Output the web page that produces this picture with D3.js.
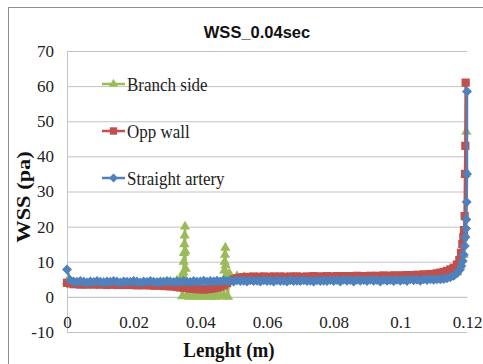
<!DOCTYPE html>
<html>
<head>
<meta charset="utf-8">
<script src="https://cdn.jsdelivr.net/npm/d3@7"></script>
<style>
  body { margin: 0; background: #fff; }
  svg { display: block; }
</style>
</head>
<body>
<div id="chart"></div>
<script>
const xTicks = [0, 0.02, 0.04, 0.06, 0.08, 0.1, 0.12]
const yTicks = [-10, 0, 10, 20, 30, 40, 50, 60, 70]
const seriesNames = ['Branch side', 'Opp wall', 'Straight artery']

// wall positions sampled along the artery (m), shared by opp wall and straight artery
const lengthGrid = [
  0, 0.001, 0.002, 0.003, 0.004, 0.005, 0.006, 0.007, 0.008, 0.009,
  0.01, 0.011, 0.012, 0.013, 0.014, 0.015, 0.016, 0.017, 0.018, 0.019,
  0.02, 0.021, 0.022, 0.023, 0.024, 0.025, 0.026, 0.027, 0.028, 0.029,
  0.03, 0.031, 0.032, 0.033, 0.034, 0.035, 0.036, 0.037, 0.038, 0.039,
  0.04, 0.041, 0.042, 0.043, 0.044, 0.045, 0.046, 0.047, 0.048, 0.049,
  0.05, 0.051, 0.052, 0.053, 0.054, 0.055, 0.056, 0.057, 0.058, 0.059,
  0.06, 0.061, 0.062, 0.063, 0.064, 0.065, 0.066, 0.067, 0.068, 0.069,
  0.07, 0.071, 0.072, 0.073, 0.074, 0.075, 0.076, 0.077, 0.078, 0.079,
  0.08, 0.081, 0.082, 0.083, 0.084, 0.085, 0.086, 0.087, 0.088, 0.089,
  0.09, 0.091, 0.092, 0.093, 0.094, 0.095, 0.096, 0.097, 0.098, 0.099,
  0.1, 0.101, 0.102, 0.103, 0.104, 0.105, 0.106, 0.107, 0.108, 0.109,
  0.11, 0.111, 0.112, 0.113, 0.114
]

// straight artery
const wssStraightGrid = [
  7.8, 4.7, 4.4, 4.2, 4.5, 4.3, 4.1, 4.4, 4.2, 4.5,
  4.3, 4.1, 4.4, 4.2, 4.5, 4.3, 4.1, 4.4, 4.3, 4.2,
  4.5, 4.3, 4.1, 4.4, 4.2, 4.5, 4.3, 4.1, 4.4, 4.2,
  4.5, 4.3, 4.2, 4.4, 4.2, 4.5, 4.3, 4.2, 4.5, 4.3,
  4.4, 4.6, 4.3, 4.5, 4.4, 4.6, 4.4, 4.7, 4.5, 4.6,
  4.4, 4.7, 4.5, 4.6, 4.4, 4.7, 4.5, 4.6, 4.4, 4.7,
  4.5, 4.6, 4.4, 4.7, 4.5, 4.6, 4.4, 4.7, 4.5, 4.6,
  4.5, 4.7, 4.5, 4.6, 4.4, 4.7, 4.5, 4.6, 4.5, 4.8,
  4.5, 4.8, 4.4, 4.9, 4.6, 4.8, 4.4, 4.9, 4.6, 4.8,
  4.5, 4.9, 4.6, 4.8, 4.4, 4.9, 4.6, 4.8, 4.5, 4.9,
  4.6, 4.9, 4.5, 5.0, 4.7, 4.9, 4.6, 5.0, 4.8, 5.0,
  4.9, 5.0, 5.0, 5.1, 5.3
]
const lengthStraightTail = [0.115, 0.116, 0.117, 0.1177, 0.1183, 0.1187, 0.119, 0.1193, 0.1195, 0.1197, 0.1198, 0.1199, 0.12, 0.12]
const wssStraightTail = [5.6, 6.0, 6.7, 7.6, 8.8, 10.2, 12.0, 14.5, 17.0, 19.5, 22.0, 27.0, 35.0, 58.5]

// opp wall
const wssOppGrid = [
  4.0, 3.8, 3.6, 3.7, 3.5, 3.6, 3.5, 3.7, 3.5, 3.6,
  3.5, 3.6, 3.4, 3.6, 3.5, 3.4, 3.5, 3.4, 3.5, 3.4,
  3.4, 3.3, 3.4, 3.3, 3.4, 3.3, 3.2, 3.3, 3.2, 3.1,
  3.1, 3.0, 3.0, 2.8, 2.7, 2.6, 2.5, 2.4, 2.3, 2.2,
  2.2, 2.1, 2.2, 2.3, 2.4, 2.6, 2.9, 3.3, 3.9, 4.5,
  5.0, 5.3, 5.5, 5.6, 5.7, 5.6, 5.8, 5.6, 5.7, 5.8,
  5.6, 5.7, 5.8, 5.6, 5.8, 5.7, 5.6, 5.8, 5.7, 5.8,
  5.7, 5.6, 5.8, 5.7, 5.9, 5.7, 5.8, 5.7, 5.9, 5.8,
  5.7, 5.9, 5.8, 5.9, 5.7, 5.9, 5.8, 6.0, 5.8, 5.9,
  5.9, 6.0, 5.8, 6.0, 5.9, 6.1, 5.9, 6.0, 6.1, 6.0,
  6.1, 6.0, 6.2, 6.1, 6.2, 6.3, 6.2, 6.4, 6.3, 6.5,
  6.5, 6.7, 6.9, 7.1, 7.4
]
const lengthOppTail = [0.115, 0.116, 0.117, 0.1177, 0.1182, 0.1186, 0.1189, 0.1191, 0.1193, 0.1194, 0.1195, 0.1196]
const wssOppTail = [7.8, 8.3, 9.2, 10.5, 12.5, 15.0, 17.0, 19.0, 23.0, 35.0, 43.0, 61.0]

// branch side
const lengthBranch = [
  0, 0.001, 0.003, 0.005, 0.007, 0.009, 0.011, 0.013, 0.015, 0.017,
  0.019, 0.021, 0.023, 0.025, 0.027, 0.029, 0.031, 0.033, 0.034, 0.0346,
  0.0349, 0.035, 0.0351, 0.0352, 0.0353, 0.0354, 0.0355, 0.0356, 0.0358, 0.0366,
  0.0374, 0.0382, 0.039, 0.0398, 0.0406, 0.0414, 0.0422, 0.043, 0.0438, 0.0446,
  0.0454, 0.0462, 0.047, 0.0471, 0.0472, 0.0473, 0.0474, 0.0475, 0.0476, 0.0478,
  0.048, 0.0483, 0.0486, 0.049, 0.051, 0.053, 0.055, 0.057, 0.059, 0.061,
  0.063, 0.065, 0.067, 0.069, 0.071, 0.073, 0.075, 0.077, 0.079, 0.081,
  0.083, 0.085, 0.087, 0.089, 0.091, 0.093, 0.095, 0.097, 0.099, 0.101,
  0.103, 0.105, 0.107, 0.109, 0.111, 0.113, 0.115, 0.117, 0.118, 0.119,
  0.1193, 0.1196, 0.1198
]
const wssBranch = [
  4.3, 4.2, 4.1, 4.1, 4.2, 4.1, 4.1, 4.2, 4.1, 4.1,
  4.1, 4.2, 4.1, 4.1, 4.1, 4.2, 4.3, 4.6, 5.2, 0.2,
  7.0, 10.0, 12.5, 15.0, 17.5, 20.0, 13.0, 8.0, 0.3, 0.0,
  0.2, 0.0, 0.1, 0.0, 0.2, 0.0, 0.1, 0.0, 0.2, 0.0,
  0.1, 0.3, 0.4, 5.0, 7.5, 10.0, 12.0, 14.0, 9.0, 5.0,
  0.2, 0.0, 6.6, 6.2, 5.9, 5.6, 5.2, 4.9, 4.7, 4.6,
  4.7, 4.6, 4.7, 4.7, 4.6, 4.7, 4.7, 4.7, 4.7, 4.8,
  4.7, 4.8, 4.8, 4.8, 4.8, 4.8, 4.9, 4.9, 4.9, 4.9,
  5.0, 5.0, 5.1, 5.1, 5.2, 5.4, 5.8, 7.0, 8.5, 12.0,
  18.0, 35.0, 47.0
]

const width = 483, height = 364
const serif = '"Liberation Serif", "Times New Roman", serif'
const gridColor = '#c3c3c3'

const x = d3.scaleLinear().domain([0, 0.12]).range([67, 467])
const y = d3.scaleLinear().domain([-10, 70]).range([332, 51])

// excel style diamond (square turned 45deg)
const diamond = {
  draw(ctx, size) {
    const r = Math.sqrt(size / 2)
    ctx.moveTo(0, -r)
    ctx.lineTo(r, 0)
    ctx.lineTo(0, r)
    ctx.lineTo(-r, 0)
    ctx.closePath()
  }
}

const series = [
  { name: seriesNames[0], xs: lengthBranch, ys: wssBranch, color: '#9bbb59', symbol: d3.symbolTriangle, size: 46 },
  { name: seriesNames[1], xs: lengthGrid.concat(lengthOppTail), ys: wssOppGrid.concat(wssOppTail), color: '#c0504d', symbol: d3.symbolSquare, size: 68 },
  { name: seriesNames[2], xs: lengthGrid.concat(lengthStraightTail), ys: wssStraightGrid.concat(wssStraightTail), color: '#4f81bd', symbol: diamond, size: 50 }
]

const svg = d3.select('#chart')
  .append('svg')
  .attr('width', width)
  .attr('height', height)

// chart frame
svg.append('rect')
  .attr('x', 8.5)
  .attr('y', 7.5)
  .attr('width', 500)
  .attr('height', 380)
  .attr('fill', 'none')
  .attr('stroke', '#8e8e8e')

// y axis with gridlines
const yAxis = svg.append('g')
  .attr('transform', `translate(${x(0)},0)`)
  .call(d3.axisLeft(y).tickValues(yTicks).tickSize(-(x(0.12) - x(0))).tickPadding(13).tickFormat(d => String(d)))
yAxis.select('.domain')
  .attr('stroke', gridColor)
  .attr('d', `M0.5,${y(70)}V${y(-10)}`)
yAxis.selectAll('.tick line').attr('stroke', gridColor)
yAxis.selectAll('.tick text')
  .attr('font-family', serif)
  .attr('font-size', 17)
  .attr('fill', '#222')

// x axis crossing at 0
const xAxis = svg.append('g')
  .attr('transform', `translate(0,${y(0)})`)
  .call(d3.axisBottom(x).tickValues(xTicks).tickSize(0).tickPadding(19).tickFormat(d => String(d)))
xAxis.select('.domain').attr('stroke', gridColor)
xAxis.selectAll('.tick text')
  .attr('font-family', serif)
  .attr('font-size', 17)
  .attr('fill', '#222')

// series
const plot = svg.append('g')
series.forEach(s => {
  const points = d3.zip(s.xs, s.ys)
  const g = plot.append('g')
  g.append('path')
    .datum(points)
    .attr('fill', 'none')
    .attr('stroke', s.color)
    .attr('stroke-width', 2.5)
    .attr('stroke-linejoin', 'round')
    .attr('d', d3.line().x(d => x(d[0])).y(d => y(d[1])))
  g.selectAll('path.marker')
    .data(points)
    .enter()
    .append('path')
      .attr('class', 'marker')
      .attr('transform', d => `translate(${x(d[0])},${y(d[1])})`)
      .attr('fill', s.color)
      .attr('d', d3.symbol().type(s.symbol).size(s.size))
})

// legend
const legendY = [84, 131, 178]
const legend = svg.append('g')
series.forEach((s, i) => {
  const g = legend.append('g').attr('transform', `translate(0,${legendY[i]})`)
  g.append('line')
    .attr('x1', 102)
    .attr('x2', 125)
    .attr('stroke', s.color)
    .attr('stroke-width', 2.5)
  g.append('path')
    .attr('transform', 'translate(113.5,0)')
    .attr('fill', s.color)
    .attr('d', d3.symbol().type(s.symbol).size(s.size * 0.8))
  g.append('text')
    .attr('transform', 'translate(127,0) scale(1,1.15)')
    .attr('dy', '0.35em')
    .attr('font-family', serif)
    .attr('font-size', 17)
    .attr('fill', '#222')
    .text(s.name)
})

// titles
svg.append('text')
  .attr('x', 257)
  .attr('y', 32)
  .attr('dy', '0.35em')
  .attr('text-anchor', 'middle')
  .attr('font-family', '"Liberation Sans", Arial, sans-serif')
  .attr('font-weight', 'bold')
  .attr('font-size', 16.5)
  .attr('fill', '#111')
  .text('WSS_0.04sec')

svg.append('text')
  .attr('transform', 'translate(229,350) scale(1,1.1)')
  .attr('dy', '0.35em')
  .attr('text-anchor', 'middle')
  .attr('font-family', serif)
  .attr('font-weight', 'bold')
  .attr('font-size', 19)
  .attr('fill', '#111')
  .text('Lenght (m)')

svg.append('text')
  .attr('transform', 'translate(23,197) rotate(-90) scale(1.15,1)')
  .attr('dy', '0.35em')
  .attr('text-anchor', 'middle')
  .attr('font-family', serif)
  .attr('font-weight', 'bold')
  .attr('font-size', 19.5)
  .attr('fill', '#111')
  .text('WSS (pa)')
</script>
</body>
</html>
